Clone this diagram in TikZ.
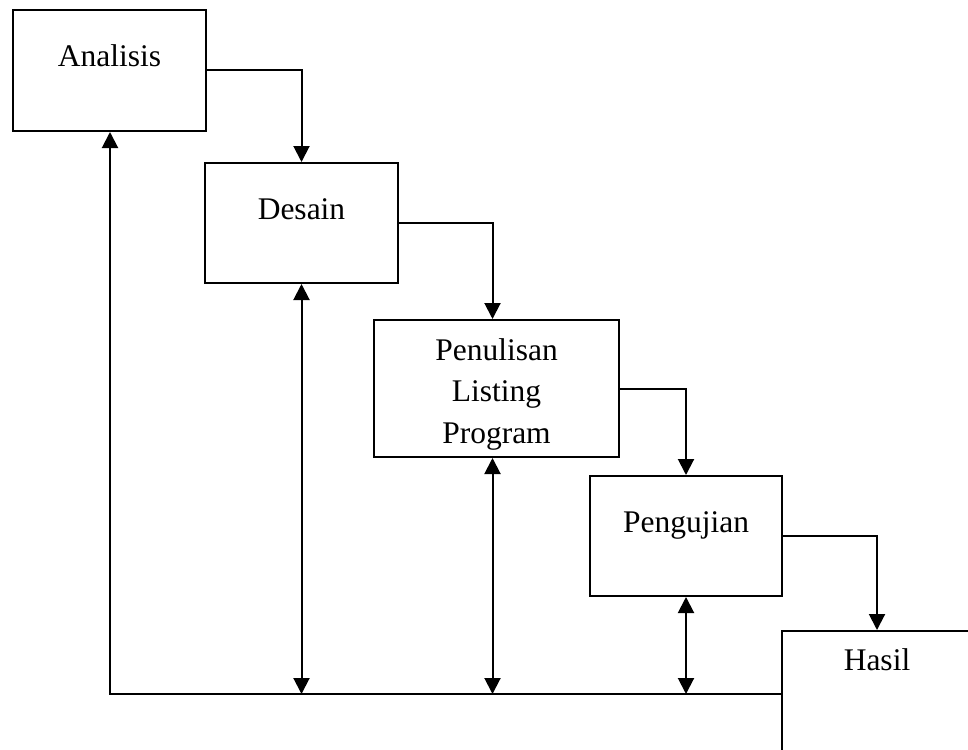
\documentclass[tikz,border=0pt]{standalone}
\usepackage{fontspec}
\setmainfont{Liberation Serif}
\usetikzlibrary{arrows.meta}

\begin{document}
\begin{tikzpicture}[
    x=0.5pt, y=-0.5pt,
    phase/.style={draw, line width=1pt, rectangle, inner sep=0pt, align=center,
                  anchor=north west, font=\fontsize{15.75}{20.75}\selectfont},
    >={Triangle[length=8pt, width=8pt]},
    every path/.style={line width=1pt}
]
\useasboundingbox (0,0) rectangle (968,749);
%% phases of the waterfall
\node[phase, minimum width=96.5pt, text width=90pt, text height=28.5pt, text depth=32pt] (ana) at (12, 9) {Analisis};
\node[phase, minimum width=96.5pt, text width=90pt, text height=28pt, text depth=32pt] (des) at (204, 162) {Desain};
\node[phase, minimum width=122.5pt, text width=115pt, text height=20pt, text depth=48.5pt] (pen) at (373, 319) {Penulisan\\ Listing\\ Program};
\node[phase, minimum width=96pt, text width=90pt, text height=28pt, text depth=32pt] (pgj) at (589, 475) {Pengujian};
\node[phase, minimum width=95pt, text width=90pt, text height=19.5pt, text depth=65pt] (has) at (781, 630) {Hasil};
%% forward steps
\draw[->] (ana.east) -| (des.north);
\draw[->] (des.east) -| ([xshift=-2pt]pen.north);
\draw[->] (pen.east) -| (pgj.north);
\draw[->] (pgj.east) -| (has.north);
%% feedback line along the bottom
\coordinate (ret) at (110, 694);
\draw[->] (has.west |- ret) -- (ret) -- (ana.south -| ret);
\draw[<->] (des.south) -- (des.south |- ret);
\draw[<->] ([xshift=-2pt]pen.south) -- ([xshift=-2pt]pen.south |- ret);
\draw[<->] (pgj.south) -- (pgj.south |- ret);
\end{tikzpicture}
\end{document}
